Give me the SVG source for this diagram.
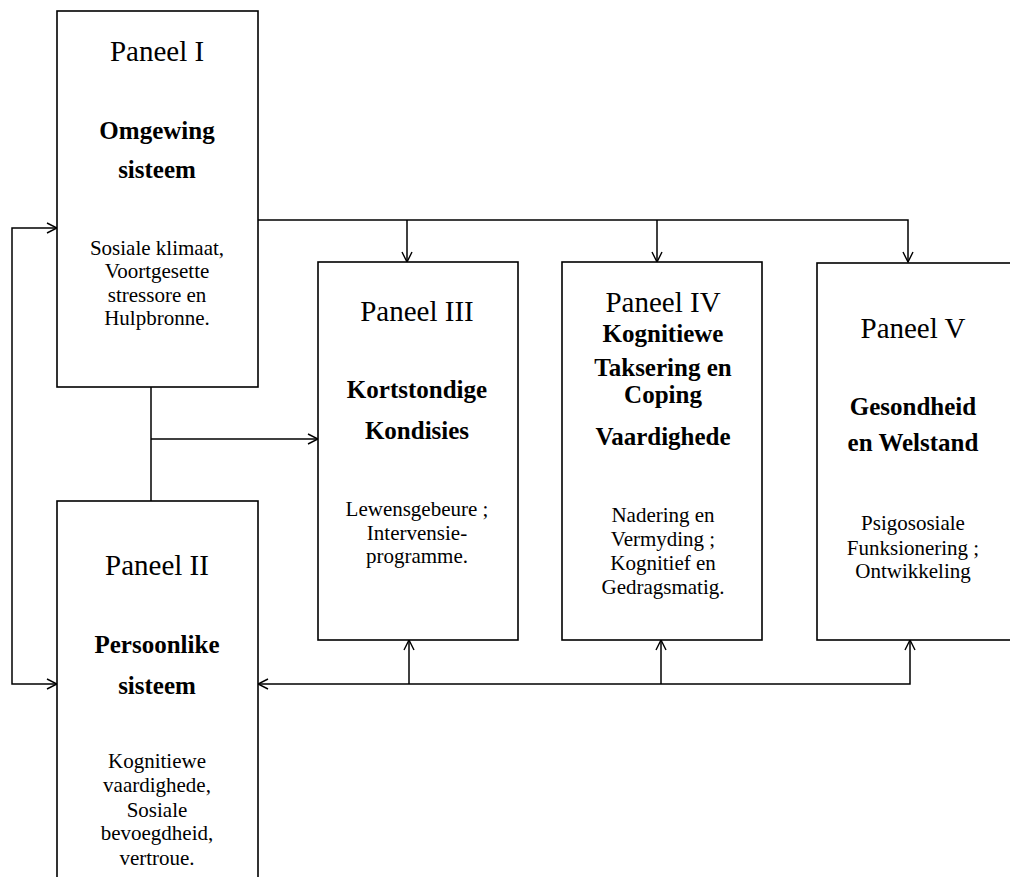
<svg xmlns="http://www.w3.org/2000/svg" width="1010" height="877" viewBox="0 0 1010 877">
<style>
.box{fill:#fff;stroke:#000;stroke-width:1.6}
.ln{fill:none;stroke:#000;stroke-width:1.5}
text{font-family:"Liberation Serif","Times New Roman",serif;fill:#000;text-anchor:middle}
.t{font-size:29px}
.b{font-size:25px;font-weight:bold}
.s{font-size:21px}
</style>
<defs>
<marker id="ar" viewBox="0 0 12 12" refX="11" refY="6" markerWidth="12" markerHeight="12" markerUnits="userSpaceOnUse" orient="auto-start-reverse">
<path d="M1,1 L11,6 L1,11" fill="none" stroke="#000" stroke-width="1.4"/>
</marker>
</defs>
<rect width="1010" height="877" fill="#fff"/>
<g id="connectors">
<polyline class="ln" points="57,228 12,228 12,684 57,684" marker-start="url(#ar)" marker-end="url(#ar)"/>
<line class="ln" x1="151" y1="387" x2="151" y2="501"/>
<line class="ln" x1="151" y1="439" x2="318" y2="439" marker-end="url(#ar)"/>
<polyline class="ln" points="258,220 908,220 908,262" marker-end="url(#ar)"/>
<line class="ln" x1="407" y1="220" x2="407" y2="262" marker-end="url(#ar)"/>
<line class="ln" x1="657" y1="220" x2="657" y2="262" marker-end="url(#ar)"/>
<polyline class="ln" points="910,640 910,684 258,684" marker-start="url(#ar)" marker-end="url(#ar)"/>
<line class="ln" x1="409" y1="684" x2="409" y2="640" marker-end="url(#ar)"/>
<line class="ln" x1="661" y1="684" x2="661" y2="640" marker-end="url(#ar)"/>
</g>
<g id="panel1">
<rect class="box" x="57" y="11" width="201" height="376"/>
<text class="t" x="157" y="61">Paneel I</text>
<text class="b" x="157" y="139">Omgewing</text>
<text class="b" x="157" y="178">sisteem</text>
<text class="s" x="157" y="255">Sosiale klimaat,</text>
<text class="s" x="157" y="278">Voortgesette</text>
<text class="s" x="157" y="302">stressore en</text>
<text class="s" x="157" y="325">Hulpbronne.</text>
</g>
<g id="panel2">
<rect class="box" x="57" y="501" width="201" height="385"/>
<text class="t" x="157" y="575">Paneel II</text>
<text class="b" x="157" y="653">Persoonlike</text>
<text class="b" x="157" y="694">sisteem</text>
<text class="s" x="157" y="768">Kognitiewe</text>
<text class="s" x="157" y="792">vaardighede,</text>
<text class="s" x="157" y="817">Sosiale</text>
<text class="s" x="157" y="840">bevoegdheid,</text>
<text class="s" x="157" y="865">vertroue.</text>
</g>
<g id="panel3">
<rect class="box" x="318" y="262" width="200" height="378"/>
<text class="t" x="417" y="321">Paneel III</text>
<text class="b" x="417" y="398">Kortstondige</text>
<text class="b" x="417" y="439">Kondisies</text>
<text class="s" x="417" y="516">Lewensgebeure ;</text>
<text class="s" x="417" y="540">Intervensie-</text>
<text class="s" x="417" y="563">programme.</text>
</g>
<g id="panel4">
<rect class="box" x="562" y="262" width="200" height="378"/>
<text class="t" x="663" y="312">Paneel IV</text>
<text class="b" x="663" y="342">Kognitiewe</text>
<text class="b" x="663" y="376">Taksering en</text>
<text class="b" x="663" y="403">Coping</text>
<text class="b" x="663" y="445">Vaardighede</text>
<text class="s" x="663" y="522">Nadering en</text>
<text class="s" x="663" y="546">Vermyding ;</text>
<text class="s" x="663" y="570">Kognitief en</text>
<text class="s" x="663" y="594">Gedragsmatig.</text>
</g>
<g id="panel5">
<rect class="box" x="817" y="263" width="200" height="377"/>
<text class="t" x="913" y="338">Paneel V</text>
<text class="b" x="913" y="415">Gesondheid</text>
<text class="b" x="913" y="451">en Welstand</text>
<text class="s" x="913" y="530">Psigososiale</text>
<text class="s" x="913" y="555">Funksionering ;</text>
<text class="s" x="913" y="578">Ontwikkeling</text>
</g>
</svg>
